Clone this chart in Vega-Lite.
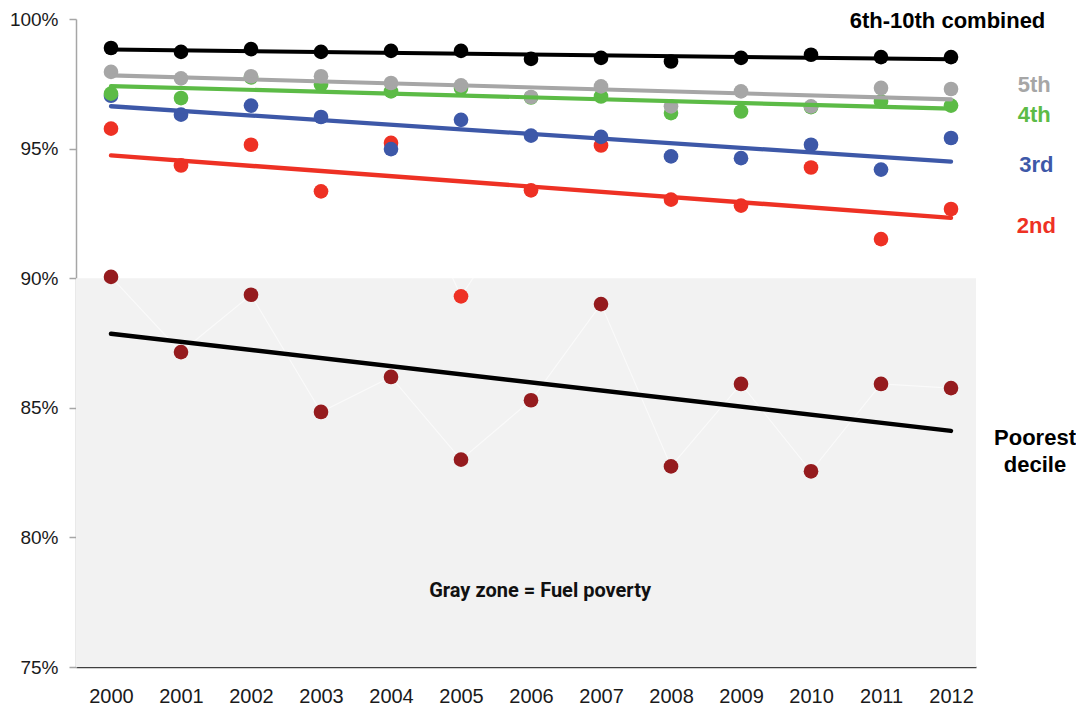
{
  "$schema": "https://vega.github.io/schema/vega-lite/v6.json",
  "description": "Share of households by income decile, 2000-2012, with trend lines",
  "width": 900,
  "height": 648,
  "autosize": {"type": "none"},
  "padding": {"left": 76, "top": 19, "right": 100, "bottom": 43},
  "background": "white",
  "config": {
    "view": {"stroke": null},
    "font": "Liberation Sans"
  },
  "datasets": {
    "points": [
      {"series": "Poorest decile", "year": 2000, "value": 90.05},
      {"series": "Poorest decile", "year": 2001, "value": 87.15},
      {"series": "Poorest decile", "year": 2002, "value": 89.36},
      {"series": "Poorest decile", "year": 2003, "value": 84.84},
      {"series": "Poorest decile", "year": 2004, "value": 86.19},
      {"series": "Poorest decile", "year": 2005, "value": 83.0},
      {"series": "Poorest decile", "year": 2006, "value": 85.29},
      {"series": "Poorest decile", "year": 2007, "value": 89.0},
      {"series": "Poorest decile", "year": 2008, "value": 82.74},
      {"series": "Poorest decile", "year": 2009, "value": 85.92},
      {"series": "Poorest decile", "year": 2010, "value": 82.55},
      {"series": "Poorest decile", "year": 2011, "value": 85.92},
      {"series": "Poorest decile", "year": 2012, "value": 85.76},
      {"series": "2nd", "year": 2000, "value": 95.77},
      {"series": "2nd", "year": 2001, "value": 94.35},
      {"series": "2nd", "year": 2002, "value": 95.15},
      {"series": "2nd", "year": 2003, "value": 93.35},
      {"series": "2nd", "year": 2004, "value": 95.22},
      {"series": "2nd", "year": 2005, "value": 89.3},
      {"series": "2nd", "year": 2006, "value": 93.39},
      {"series": "2nd", "year": 2007, "value": 95.12},
      {"series": "2nd", "year": 2008, "value": 93.03},
      {"series": "2nd", "year": 2009, "value": 92.8},
      {"series": "2nd", "year": 2010, "value": 94.27},
      {"series": "2nd", "year": 2011, "value": 91.51},
      {"series": "2nd", "year": 2012, "value": 92.67},
      {"series": "3rd", "year": 2000, "value": 97.04},
      {"series": "3rd", "year": 2001, "value": 96.31},
      {"series": "3rd", "year": 2002, "value": 96.66},
      {"series": "3rd", "year": 2003, "value": 96.22},
      {"series": "3rd", "year": 2004, "value": 94.98},
      {"series": "3rd", "year": 2005, "value": 96.11},
      {"series": "3rd", "year": 2006, "value": 95.5},
      {"series": "3rd", "year": 2007, "value": 95.45},
      {"series": "3rd", "year": 2008, "value": 94.7},
      {"series": "3rd", "year": 2009, "value": 94.63},
      {"series": "3rd", "year": 2010, "value": 95.15},
      {"series": "3rd", "year": 2011, "value": 94.19},
      {"series": "3rd", "year": 2012, "value": 95.41},
      {"series": "4th", "year": 2000, "value": 97.12},
      {"series": "4th", "year": 2001, "value": 96.95},
      {"series": "4th", "year": 2002, "value": 97.75},
      {"series": "4th", "year": 2003, "value": 97.47},
      {"series": "4th", "year": 2004, "value": 97.21},
      {"series": "4th", "year": 2005, "value": 97.34},
      {"series": "4th", "year": 2006, "value": 96.97},
      {"series": "4th", "year": 2007, "value": 97.01},
      {"series": "4th", "year": 2008, "value": 96.37},
      {"series": "4th", "year": 2009, "value": 96.43},
      {"series": "4th", "year": 2010, "value": 96.6},
      {"series": "4th", "year": 2011, "value": 96.82},
      {"series": "4th", "year": 2012, "value": 96.66},
      {"series": "5th", "year": 2000, "value": 97.96},
      {"series": "5th", "year": 2001, "value": 97.71},
      {"series": "5th", "year": 2002, "value": 97.79},
      {"series": "5th", "year": 2003, "value": 97.79},
      {"series": "5th", "year": 2004, "value": 97.53},
      {"series": "5th", "year": 2005, "value": 97.44},
      {"series": "5th", "year": 2006, "value": 96.99},
      {"series": "5th", "year": 2007, "value": 97.4},
      {"series": "5th", "year": 2008, "value": 96.63},
      {"series": "5th", "year": 2009, "value": 97.21},
      {"series": "5th", "year": 2010, "value": 96.63},
      {"series": "5th", "year": 2011, "value": 97.34},
      {"series": "5th", "year": 2012, "value": 97.3},
      {"series": "6th-10th combined", "year": 2000, "value": 98.88},
      {"series": "6th-10th combined", "year": 2001, "value": 98.73},
      {"series": "6th-10th combined", "year": 2002, "value": 98.84},
      {"series": "6th-10th combined", "year": 2003, "value": 98.73},
      {"series": "6th-10th combined", "year": 2004, "value": 98.77},
      {"series": "6th-10th combined", "year": 2005, "value": 98.77},
      {"series": "6th-10th combined", "year": 2006, "value": 98.46},
      {"series": "6th-10th combined", "year": 2007, "value": 98.5},
      {"series": "6th-10th combined", "year": 2008, "value": 98.36},
      {"series": "6th-10th combined", "year": 2009, "value": 98.5},
      {"series": "6th-10th combined", "year": 2010, "value": 98.62},
      {"series": "6th-10th combined", "year": 2011, "value": 98.53},
      {"series": "6th-10th combined", "year": 2012, "value": 98.53}
    ],
    "labels": [
      {"series": "6th-10th combined", "text": "6th-10th combined", "year": 2011.95, "value": 99.91},
      {"series": "5th", "text": "5th", "year": 2013.19, "value": 97.47},
      {"series": "4th", "text": "4th", "year": 2013.19, "value": 96.31},
      {"series": "3rd", "text": "3rd", "year": 2013.22, "value": 94.35},
      {"series": "2nd", "text": "2nd", "year": 2013.22, "value": 92.0},
      {"series": "Poorest decile", "text": "Poorest", "year": 2013.2, "value": 83.85},
      {"series": "Poorest decile", "text": "decile", "year": 2013.2, "value": 82.81}
    ],
    "zone": [
      {"from": 75, "to": 90, "note": "Gray zone = Fuel poverty", "year": 2006.13, "value": 77.92}
    ]
  },
  "layer": [
    {
      "data": {"name": "zone"},
      "mark": {"type": "rect", "color": "#f2f2f2"},
      "encoding": {
        "y": {
          "field": "from",
          "type": "quantitative",
          "scale": {"domain": [75, 100], "nice": false, "zero": false},
          "axis": {
            "values": [75, 80, 85, 90, 95, 100],
            "labelExpr": "datum.value + '%'",
            "title": null,
            "grid": true,
            "gridColor": "#ffffff",
            "gridWidth": 1,
            "domainColor": "#a6a6a6",
            "domainWidth": 1.5,
            "tickColor": "#a6a6a6",
            "tickSize": 7,
            "tickWidth": 1.5,
            "labelFontSize": 19,
            "labelColor": "#1a1a1a",
            "labelPadding": 11,
            "labelFont": "Liberation Sans"
          }
        },
        "y2": {"field": "to"}
      }
    },
    {
      "data": {"name": "points"},
      "mark": {"type": "line", "color": "#ffffff", "strokeWidth": 1.2, "opacity": 0.6},
      "encoding": {
        "x": {
          "field": "year",
          "type": "quantitative",
          "scale": {"domain": [1999.5, 2012.357], "nice": false, "zero": false},
          "axis": {
            "values": [2000, 2001, 2002, 2003, 2004, 2005, 2006, 2007, 2008, 2009, 2010, 2011, 2012],
            "format": "d",
            "title": null,
            "grid": false,
            "ticks": false,
            "domainColor": "#404040",
            "domainWidth": 1.5,
            "labelFontSize": 20,
            "labelColor": "#1a1a1a",
            "labelPadding": 19,
            "labelFont": "Liberation Sans"
          }
        },
        "y": {"field": "value", "type": "quantitative"},
        "detail": {"field": "series"}
      }
    },
    {
      "data": {"name": "points"},
      "mark": {"type": "point", "filled": true, "opacity": 1, "size": 215, "shape": "circle"},
      "encoding": {
        "x": {"field": "year", "type": "quantitative"},
        "y": {"field": "value", "type": "quantitative"},
        "color": {
          "field": "series",
          "type": "nominal",
          "scale": {
            "domain": ["Poorest decile", "2nd", "3rd", "4th", "5th", "6th-10th combined"],
            "range": ["#951b1e", "#ee3124", "#3d58a8", "#5cbb46", "#a6a6a6", "#000000"]
          },
          "legend": null
        }
      }
    },
    {
      "data": {"name": "points"},
      "transform": [
        {"regression": "value", "on": "year", "groupby": ["series"], "extent": [2000, 2012]}
      ],
      "mark": {"type": "line", "strokeCap": "round"},
      "encoding": {
        "x": {"field": "year", "type": "quantitative"},
        "y": {"field": "value", "type": "quantitative"},
        "stroke": {
          "field": "series",
          "type": "nominal",
          "scale": {
            "domain": ["Poorest decile", "2nd", "3rd", "4th", "5th", "6th-10th combined"],
            "range": ["#000000", "#ee3124", "#3d58a8", "#5cbb46", "#a6a6a6", "#000000"]
          },
          "legend": null
        },
        "strokeWidth": {
          "field": "series",
          "type": "nominal",
          "scale": {
            "domain": ["Poorest decile", "2nd", "3rd", "4th", "5th", "6th-10th combined"],
            "range": [4.5, 4, 4, 4, 4.5, 3]
          },
          "legend": null
        }
      }
    },
    {
      "data": {"name": "labels"},
      "mark": {"type": "text", "fontWeight": "bold", "fontSize": 22, "align": "center", "baseline": "middle", "font": "Liberation Sans"},
      "encoding": {
        "x": {"field": "year", "type": "quantitative"},
        "y": {"field": "value", "type": "quantitative"},
        "text": {"field": "text"},
        "fill": {
          "field": "series",
          "type": "nominal",
          "scale": {
            "domain": ["Poorest decile", "2nd", "3rd", "4th", "5th", "6th-10th combined"],
            "range": ["#000000", "#ee3124", "#3d58a8", "#5cbb46", "#a6a6a6", "#000000"]
          },
          "legend": null
        }
      }
    },
    {
      "data": {"name": "zone"},
      "mark": {"type": "text", "fontWeight": "bold", "fontSize": 20, "align": "center", "baseline": "middle", "font": "Roboto", "color": "#111111"},
      "encoding": {
        "x": {"field": "year", "type": "quantitative"},
        "y": {"field": "value", "type": "quantitative"},
        "text": {"field": "note"}
      }
    }
  ],
  "resolve": {"scale": {"color": "independent", "stroke": "independent", "fill": "independent"}}
}
